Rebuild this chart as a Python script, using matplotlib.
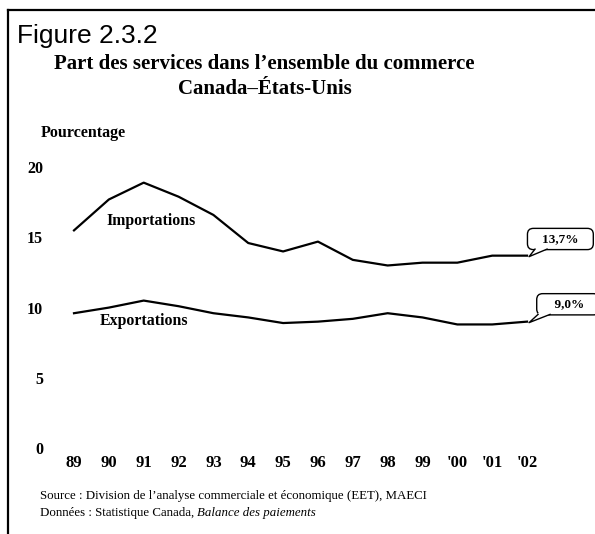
import matplotlib
matplotlib.use("Agg")
import matplotlib.pyplot as plt
from matplotlib.lines import Line2D
from matplotlib.patches import Polygon
from matplotlib.transforms import IdentityTransform

# Share of services in Canada-US trade (%)
years = ["89", "90", "91", "92", "93", "94", "95", "96", "97", "98", "99", "'00", "'01", "'02"]
importations = [15.5, 17.7, 18.9, 17.9, 16.6, 14.6, 14.0, 14.7, 13.4, 13.0, 13.2, 13.2, 13.7, 13.7]
exportations = [9.6, 10.0, 10.5, 10.1, 9.6, 9.3, 8.9, 9.0, 9.2, 9.6, 9.3, 8.8, 8.8, 9.0]
y_ticks = [0, 5, 10, 15, 20]

W, H = 595, 534
SERIF = "Liberation Serif"


def fx(px):
    return px / W


def fy(py):
    return 1 - py / H


fig = plt.figure(figsize=(W / 100, H / 100), dpi=100)
fig.patch.set_facecolor("white")

# plot area: x index 0 sits at px 74, 34.85 px per year; y 0 at px 448, 14.04 px per unit
left_px, right_px, bottom_px, top_px = 50, 595, 448, 150
ax = fig.add_axes([fx(left_px), fy(bottom_px), (right_px - left_px) / W, (bottom_px - top_px) / H])
ax.set_xlim((left_px - 74) / 34.85, (right_px - 74) / 34.85)
ax.set_ylim(0, (bottom_px - top_px) / 14.04)
for s in ax.spines.values():
    s.set_visible(False)

x = list(range(len(years)))
ax.plot(x, importations, color="black", lw=1.6, solid_joinstyle="round")
ax.plot(x, exportations, color="black", lw=1.6, solid_joinstyle="round")

ax.set_xticks(x)
ax.set_xticklabels(years, fontfamily=SERIF, fontweight="bold", fontsize=12)
ax.set_yticks(y_ticks)
ax.set_yticklabels([str(v) for v in y_ticks], fontfamily=SERIF, fontweight="bold", fontsize=11.5)
ax.tick_params(axis="x", length=0, pad=5)
ax.tick_params(axis="y", length=0, pad=5)

# series names
ax.text(2.21, 16.2, "Importations", ha="center", va="center",
        fontfamily=SERIF, fontweight="bold", fontsize=11.4)
ax.text(2.0, 9.05, "Exportations", ha="center", va="center",
        fontfamily=SERIF, fontweight="bold", fontsize=11.4)

# callout boxes with the last values
callouts = [
    (importations[-1], "   13,7%   ", (24, 12), 8),
    (exportations[-1], "    9,0%   ", (29.5, 12.5), 11),
]
renderer = fig.canvas.get_renderer()
for val, label, off, tail_dx in callouts:
    xy = (len(years) - 1, val)
    ann = ax.annotate(label, xy=xy, xytext=off, textcoords="offset points",
                      ha="center", va="center", fontfamily=SERIF, fontweight="bold", fontsize=9.5,
                      bbox=dict(boxstyle="round,pad=0.35,rounding_size=0.45",
                                fc="white", ec="black", lw=1),
                      annotation_clip=False, zorder=5)
    ann.draw(renderer)
    yb = ann.get_bbox_patch().get_window_extent(renderer).y0 + 0.5
    px, py = ax.transData.transform(xy)
    # speech-bubble tail from the box bottom down to the line end
    tip = (px + 2, py - 1)
    b1, b2 = (px + tail_dx, yb), (px + tail_dx + 12, yb)
    fig.add_artist(Polygon([tip, b1, (b1[0], yb + 1.5), (b2[0], yb + 1.5), b2],
                           closed=True, fc="white", ec="none",
                           transform=IdentityTransform(), zorder=6))
    fig.add_artist(Line2D([b1[0], tip[0], b2[0]], [b1[1], tip[1], b2[1]], color="black",
                          lw=1, transform=IdentityTransform(), zorder=7))

# page frame
fig.add_artist(Line2D([fx(8), fx(8)], [fy(10), 0], color="black", lw=1.6))
fig.add_artist(Line2D([fx(8), 1], [fy(10), fy(10)], color="black", lw=1.6))

fig.text(fx(17), fy(43), "Figure 2.3.2", fontfamily="Liberation Sans", fontsize=19,
         va="baseline", ha="left")
fig.text(fx(264), fy(69), "Part des services dans l\u2019ensemble du commerce",
         fontfamily=SERIF, fontweight="bold", fontsize=15, ha="center", va="baseline")
fig.text(fx(265), fy(94), "Canada\u2013\u00c9tats-Unis",
         fontfamily=SERIF, fontweight="bold", fontsize=15, ha="center", va="baseline")
fig.text(fx(41), fy(137), "Pourcentage", fontfamily=SERIF, fontweight="bold", fontsize=11.5,
         ha="left", va="baseline")

fig.text(fx(40), fy(499),
         "Source : Division de l\u2019analyse commerciale et \u00e9conomique (EET), MAECI",
         fontfamily=SERIF, fontsize=9.3, ha="left", va="baseline")
t = fig.text(fx(40), fy(516), "Donn\u00e9es : Statistique Canada, ",
             fontfamily=SERIF, fontsize=9.3, ha="left", va="baseline")
bb = t.get_window_extent(renderer=renderer)
fig.text(bb.x1 / fig.bbox.width, fy(516), "Balance des paiements",
         fontfamily=SERIF, fontsize=9.3, fontstyle="italic", ha="left", va="baseline")

fig.savefig("out.png", dpi=100)
